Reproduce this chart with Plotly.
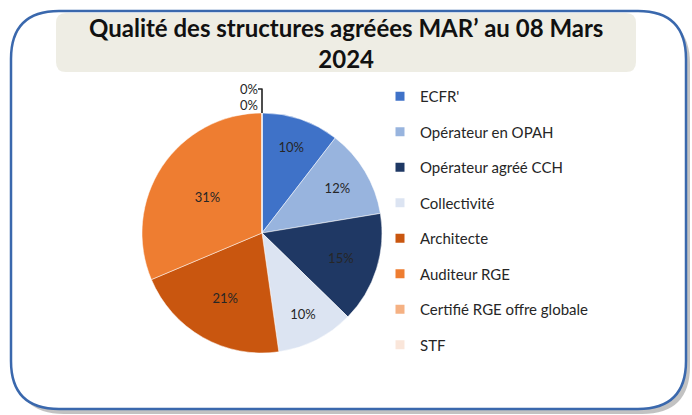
import plotly.graph_objects as go

categories = ["ECFR'", "Opérateur en OPAH", "Opérateur agréé CCH", "Collectivité",
              "Architecte", "Auditeur RGE", "Certifié RGE offre globale", "STF"]
counts = [7, 8, 10, 7, 14, 21, 0, 0]
colors = ["#3f72c8", "#98b4de", "#1f3864", "#dce4f2", "#c9560f", "#ee7d31", "#f5b183", "#fae6da"]
title_text = "Qualité des structures agréées MAR’ au 08 Mars<br>2024"

W, H = 692, 415
def px(x): return x / W
def py(y): return 1 - y / H

def rrect(x0, y0, x1, y1, r):
    return (f"M{px(x0+r)},{py(y0)} L{px(x1-r)},{py(y0)} Q{px(x1)},{py(y0)} {px(x1)},{py(y0+r)} "
            f"L{px(x1)},{py(y1-r)} Q{px(x1)},{py(y1)} {px(x1-r)},{py(y1)} "
            f"L{px(x0+r)},{py(y1)} Q{px(x0)},{py(y1)} {px(x0)},{py(y1-r)} "
            f"L{px(x0)},{py(y0+r)} Q{px(x0)},{py(y0)} {px(x0+r)},{py(y0)} Z")

fig = go.Figure()
fig.add_trace(go.Pie(
    labels=categories,
    values=counts,
    marker=dict(colors=colors, line=dict(color="white", width=0.5)),
    sort=False,
    direction="clockwise",
    rotation=0,
    texttemplate="%{percent:.0%}",
    textposition=["inside" if c > 0 else "outside" for c in counts],
    insidetextorientation="horizontal",
    textfont=dict(family="Lato", size=13, color="#262626"),
    domain=dict(x=[px(142), px(382)], y=[py(353), py(113)]),
    hoverinfo="label+percent",
    showlegend=False,
))

# legend entries (one per category) so spacing between entries can be controlled
for i, (cat, col) in enumerate(zip(categories, colors)):
    fig.add_trace(go.Scatter(
        x=[None], y=[None], mode="markers", name=cat,
        marker=dict(symbol="square", size=9, color=col),
        legendgroup=f"g{i}", showlegend=True, hoverinfo="skip",
    ))

fig.update_layout(
    width=W, height=H,
    margin=dict(l=0, r=0, t=0, b=0),
    paper_bgcolor="white",
    plot_bgcolor="rgba(0,0,0,0)",
    xaxis=dict(visible=False),
    yaxis=dict(visible=False),
    showlegend=True,
    legend=dict(x=px(380), y=py(80), xanchor="left", yanchor="top",
                font=dict(family="Lato", size=15, color="#262626"),
                itemwidth=30, traceorder="grouped", tracegroupgap=13,
                itemsizing="trace", bgcolor="rgba(0,0,0,0)"),
    shapes=[
        dict(type="path", path=rrect(16, 16, 690, 414, 48), xref="paper", yref="paper",
             fillcolor="#9a9a9a", line=dict(width=0), layer="below", opacity=0.6),
        dict(type="path", path=rrect(11, 11, 686, 409, 48), xref="paper", yref="paper",
             fillcolor="white", line=dict(color="#3a68ad", width=2.5), layer="below"),
        dict(type="path", path=rrect(56, 13, 636, 72, 10), xref="paper", yref="paper",
             fillcolor="#eeede4", line=dict(width=0), layer="below"),
    ],
    annotations=[
        dict(text="<b>" + title_text + "</b>", x=px(346), y=py(43), xref="paper", yref="paper",
             showarrow=False, font=dict(family="Lato", size=24, color="#111111"),
             xanchor="center", yanchor="middle"),
    ],
)

fig.write_html("out.html", config={"displayModeBar": False},
               post_script="document.body.style.margin='0';document.body.style.overflow='hidden';")
